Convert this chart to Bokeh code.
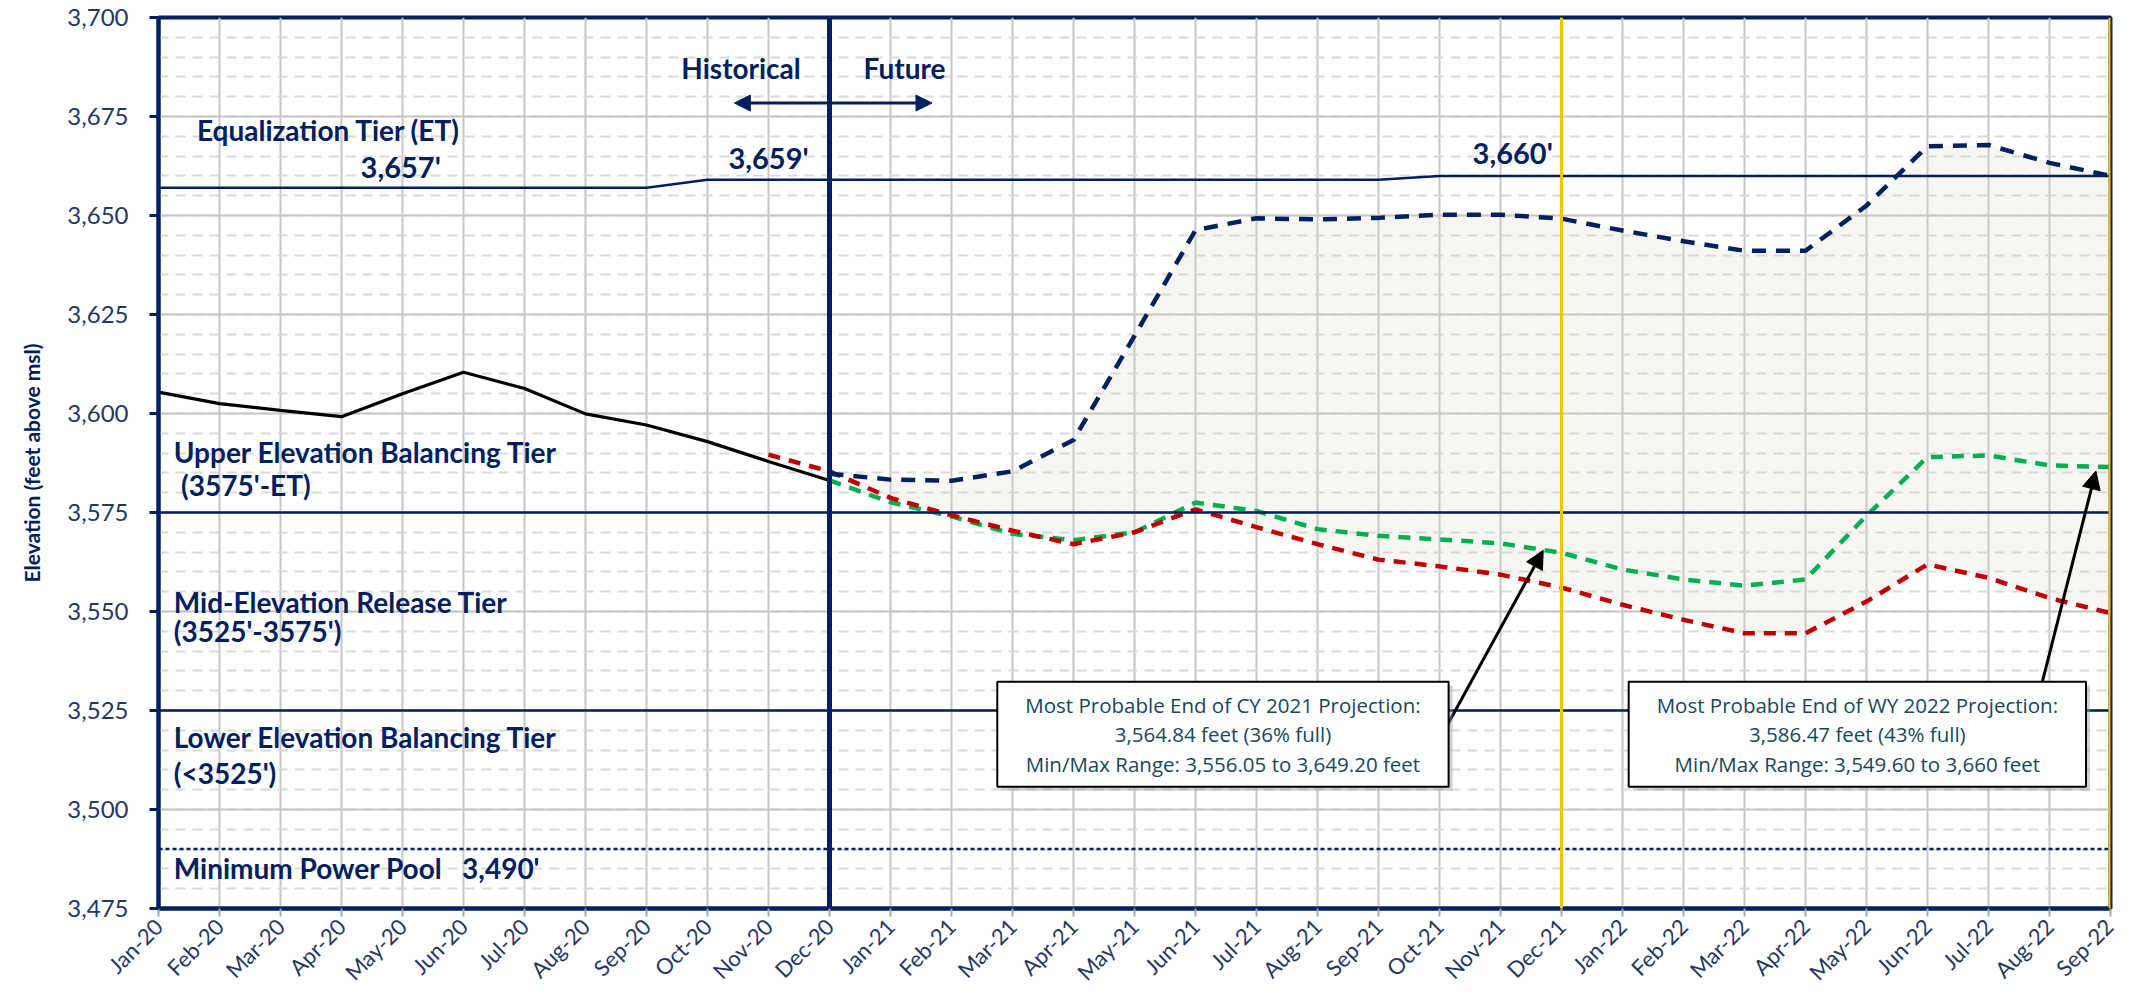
import math
from bokeh.plotting import figure
from bokeh.models import (Span, Label, Arrow, NormalHead, FixedTicker,
                          SingleIntervalTicker, NumeralTickFormatter, Range1d)
from bokeh.embed import file_html
from bokeh.resources import INLINE

# ---------------- data ----------------
months = ["Jan-20", "Feb-20", "Mar-20", "Apr-20", "May-20", "Jun-20", "Jul-20", "Aug-20",
          "Sep-20", "Oct-20", "Nov-20", "Dec-20", "Jan-21", "Feb-21", "Mar-21", "Apr-21",
          "May-21", "Jun-21", "Jul-21", "Aug-21", "Sep-21", "Oct-21", "Nov-21", "Dec-21",
          "Jan-22", "Feb-22", "Mar-22", "Apr-22", "May-22", "Jun-22", "Jul-22", "Aug-22",
          "Sep-22"]

# Historical elevations Jan-20 .. Dec-20
historical = [3605.4, 3602.5, 3600.8, 3599.2, 3605.0, 3610.4, 3606.3, 3599.9,
              3597.1, 3592.9, 3587.9, 3583.1]
# Max probable projection Dec-20 .. Sep-22
max_proj = [3584.8, 3583.3, 3583.0, 3585.4, 3593.3, 3619.6, 3646.3, 3649.3, 3649.0,
            3649.4, 3650.2, 3650.2, 3649.2, 3646.2, 3643.5, 3641.1, 3641.1, 3652.5,
            3667.5, 3667.8, 3663.3, 3660.0]
# Most probable projection Dec-20 .. Sep-22
most_prob = [3583.1, 3577.6, 3574.0, 3569.6, 3568.0, 3570.0, 3577.5, 3575.4, 3570.8,
             3569.1, 3568.2, 3567.2, 3564.84, 3560.6, 3558.1, 3556.5, 3558.1, 3574.2,
             3589.0, 3589.4, 3586.9, 3586.47]
# Min probable projection Nov-20 .. Sep-22
min_proj = [3589.6, 3585.4, 3578.7, 3574.3, 3570.4, 3567.0, 3570.0, 3575.8, 3571.3,
            3567.0, 3563.1, 3561.4, 3559.3, 3556.05, 3551.7, 3547.9, 3544.5, 3544.5,
            3552.5, 3561.9, 3558.5, 3553.4, 3549.6]
# Equalization tier level Jan-20 .. Sep-22
et_level = [3657, 3657, 3657, 3657, 3657, 3657, 3657, 3657, 3657,
            3659, 3659, 3659, 3659, 3659, 3659, 3659, 3659, 3659, 3659, 3659, 3659,
            3660, 3660, 3660, 3660, 3660, 3660, 3660, 3660, 3660, 3660, 3660, 3660]
tier_levels = [3575, 3525]
min_power_pool = 3490

tier_texts = ["Equalization Tier (ET)", "Upper Elevation Balancing Tier", "(3575'-ET)",
              "Mid-Elevation Release Tier", "(3525'-3575')",
              "Lower Elevation Balancing Tier", "(<3525')",
              "Minimum Power Pool\u00a0\u00a0 3,490'"]
tier_text_x = [0.63, 0.25, 0.37, 0.25, 0.25, 0.25, 0.25, 0.25]
tier_text_y = [3671.6, 3590.4, 3582.0, 3552.4, 3545.0, 3518.2, 3509.2, 3485.3]

et_value_texts = ["3,657'", "3,659'", "3,660'"]
et_value_x = [3.97, 10.0, 22.2]
et_value_y = [3662.3, 3664.7, 3666.0]

cy_text = ("Most Probable End of CY 2021 Projection:\n3,564.84 feet (36% full)\n"
           "Min/Max Range: 3,556.05 to 3,649.20 feet")
wy_text = ("Most Probable End of WY 2022 Projection:\n3,586.47 feet (43% full)\n"
           "Min/Max Range: 3,549.60 to 3,660 feet")

# ---------------- styling ----------------
NAVY = "#002060"
TICK = "#1f3864"
TEXT_BOX = "#17475a"
FONT = "Lato"

i_nov20 = months.index("Nov-20")
i_dec20 = months.index("Dec-20")
i_dec21 = months.index("Dec-21")
i_last = len(months) - 1

hist_x = list(range(len(historical)))
fut_x = list(range(i_dec20, i_dec20 + len(max_proj)))
min_x = list(range(i_nov20, i_nov20 + len(min_proj)))

p = figure(width=2118, height=1000, x_range=Range1d(0, i_last), y_range=Range1d(3475, 3700),
           output_backend="svg", toolbar_location=None,
           min_border_left=158, min_border_right=8, min_border_top=17, min_border_bottom=92)
p.background_fill_color = "white"
p.border_fill_color = "white"
p.outline_line_color = NAVY
p.outline_line_width = 4

# axes
xt = FixedTicker(ticks=list(range(len(months))))
p.xaxis.ticker = xt
p.xaxis.major_label_overrides = {i: m for i, m in enumerate(months)}
p.xaxis.major_label_orientation = math.pi / 4
p.xaxis.axis_line_color = NAVY
p.xaxis.axis_line_width = 4
p.xaxis.major_tick_line_color = "#a6a6a6"
p.xaxis.major_tick_line_width = 2
p.xaxis.major_tick_in = 0
p.xaxis.major_tick_out = 8
p.xaxis.minor_tick_line_color = None
p.xaxis.major_label_text_font = FONT
p.xaxis.major_label_text_font_size = "22px"
p.xaxis.major_label_text_color = TICK
p.xaxis.major_label_standoff = 6

yt = SingleIntervalTicker(interval=25, num_minor_ticks=5)
p.yaxis.ticker = yt
p.yaxis.formatter = NumeralTickFormatter(format="0,0")
p.yaxis.axis_line_color = NAVY
p.yaxis.axis_line_width = 4
p.yaxis.major_tick_line_color = NAVY
p.yaxis.major_tick_line_width = 3
p.yaxis.major_tick_in = 0
p.yaxis.major_tick_out = 9
p.yaxis.minor_tick_line_color = None
p.yaxis.major_label_text_font = FONT
p.yaxis.major_label_text_font_size = "24px"
p.yaxis.major_label_text_color = TICK
p.yaxis.major_label_standoff = 21
p.yaxis.axis_label = "Elevation (feet above msl)"
p.yaxis.axis_label_text_font = FONT
p.yaxis.axis_label_text_font_style = "bold"
p.yaxis.axis_label_text_font_size = "21px"
p.yaxis.axis_label_text_color = NAVY
p.yaxis.axis_label_standoff = 20

# grids
p.xgrid.ticker = xt
p.xgrid.grid_line_color = "#c6c6c6"
p.xgrid.grid_line_width = 2
p.ygrid.ticker = yt
p.ygrid.grid_line_color = "#c6c6c6"
p.ygrid.grid_line_width = 2
p.ygrid.minor_grid_line_color = "#d9d9d9"
p.ygrid.minor_grid_line_width = 2
p.ygrid.minor_grid_line_dash = "10 7"

# min/max envelope
p.varea(x=fut_x, y1=min_proj[1:], y2=max_proj, fill_color="#ddd6c2", fill_alpha=0.22)

# tier lines
p.line(list(range(len(months))), et_level, line_color=NAVY, line_width=2.5)
for lvl in tier_levels:
    p.add_layout(Span(location=lvl, dimension="width", line_color=NAVY, line_width=2.5))
p.add_layout(Span(location=min_power_pool, dimension="width", line_color=NAVY,
                  line_width=2.5, line_dash="4 3"))

# vertical markers
p.add_layout(Span(location=i_dec20, dimension="height", line_color=NAVY, line_width=5))
p.add_layout(Span(location=i_dec21, dimension="height", line_color="#ffc000", line_width=3))
p.add_layout(Span(location=i_last, dimension="height", line_color="#ffc000", line_width=4))

# series
p.line(hist_x, historical, line_color="black", line_width=3.2)
p.line(fut_x, most_prob, line_color="#00b050", line_width=4.5, line_dash="12 9")
p.line(min_x, min_proj, line_color="#c00000", line_width=4.5, line_dash="12 9")
p.line(fut_x, max_proj, line_color=NAVY, line_width=4.5, line_dash="14 10")

# tier labels
for t, x, y in zip(tier_texts, tier_text_x, tier_text_y):
    p.add_layout(Label(x=x, y=y, text=t, text_font=FONT, text_font_style="bold",
                       text_font_size="28px", text_color=NAVY, text_baseline="middle",
                       text_align="left"))
for t, x, y in zip(et_value_texts, et_value_x, et_value_y):
    p.add_layout(Label(x=x, y=y, text=t, text_font=FONT, text_font_style="bold",
                       text_font_size="29px", text_color=NAVY, text_baseline="middle",
                       text_align="center"))

# historical / future
p.add_layout(Label(x=i_dec20 - 1.45, y=3687.3, text="Historical", text_font=FONT,
                   text_font_style="bold", text_font_size="28px", text_color=NAVY,
                   text_baseline="middle", text_align="center"))
p.add_layout(Label(x=i_dec20 + 1.23, y=3687.3, text="Future", text_font=FONT,
                   text_font_style="bold", text_font_size="28px", text_color=NAVY,
                   text_baseline="middle", text_align="center"))
p.add_layout(Arrow(x_start=i_dec20 - 1.56, y_start=3678.4, x_end=i_dec20 + 1.68, y_end=3678.4,
                   line_color=NAVY, line_width=3,
                   start=NormalHead(size=16, fill_color=NAVY, line_color=NAVY),
                   end=NormalHead(size=16, fill_color=NAVY, line_color=NAVY)))

# projection boxes + arrows
cy_val = most_prob[fut_x.index(i_dec21)]
wy_val = most_prob[-1]
p.add_layout(Arrow(x_start=21.1, y_start=3520.5, x_end=i_dec21 - 0.3, y_end=cy_val + 0.6,
                   line_color="black", line_width=3,
                   end=NormalHead(size=18, fill_color="black", line_color="black")))
p.add_layout(Arrow(x_start=30.87, y_start=3531.5, x_end=i_last - 0.24, y_end=wy_val - 1.0,
                   line_color="black", line_width=3,
                   end=NormalHead(size=18, fill_color="black", line_color="black")))
for t, x in [(cy_text, 17.45), (wy_text, 27.85)]:
    p.add_layout(Label(x=x, y=3519, text=t, text_font="Open Sans", text_font_size="20.5px",
                       text_color="rgba(0,0,0,0)", text_align="center",
                       text_baseline="middle", text_line_height=1.05,
                       x_offset=4, y_offset=-4,
                       background_fill_color="#9a9a9a", background_fill_alpha=0.45,
                       border_line_color=None, padding=(28, 9)))
    p.add_layout(Label(x=x, y=3519, text=t, text_font="Open Sans", text_font_size="20.5px",
                       text_color=TEXT_BOX, text_align="center", text_baseline="middle",
                       text_line_height=1.05,
                       background_fill_color="white", border_line_color="black",
                       border_line_width=2, padding=(28, 9)))

open("out.html", "w").write(file_html(p, INLINE))
